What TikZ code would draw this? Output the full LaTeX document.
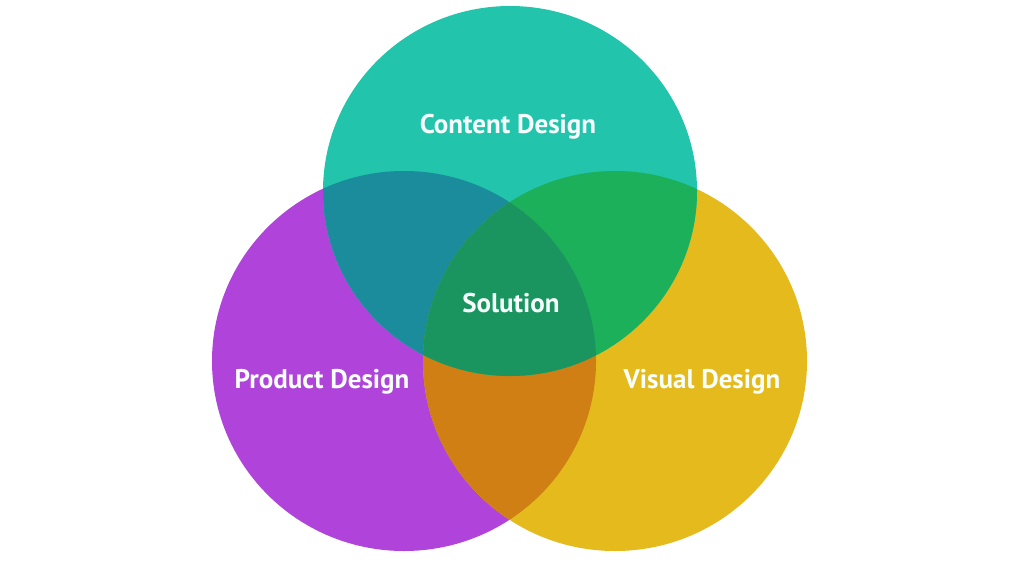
\documentclass[tikz,border=0pt]{standalone}
\usepackage{fontspec}
\setmainfont{PT Sans}
\definecolor{cteal}{HTML}{22C4AB}
\definecolor{cpurple}{HTML}{B044DA}
\definecolor{cyellow}{HTML}{E4BA1D}
\definecolor{ctp}{HTML}{1A8C9C}
\definecolor{cty}{HTML}{1DB05A}
\definecolor{cpy}{HTML}{D07F14}
\definecolor{cmid}{HTML}{1A9560}
\definecolor{ctext}{HTML}{F6FFFB}
\tikzset{
  lbl/.style={text=ctext, font=\bfseries\fontsize{27}{31}\selectfont, inner sep=0pt, anchor=center}
}
\begin{document}
\begin{tikzpicture}[x=1pt,y=-1pt]
\useasboundingbox (0,0) rectangle (1024,576);
\fill[white] (0,0) rectangle (1024,576);
\def\TopC{(510,191) circle[x radius=187, y radius=185]}
\def\LeftC{(404,361) circle[x radius=192, y radius=190]}
\def\RightC{(615,361) circle[x radius=192, y radius=190]}
\fill[cpurple] \LeftC;
\fill[cyellow] \RightC;
\fill[cteal] \TopC;
\begin{scope}
  \clip \LeftC;
  \fill[ctp] \TopC;
  \fill[cpy] \RightC;
\end{scope}
\begin{scope}
  \clip \RightC;
  \fill[cty] \TopC;
\end{scope}
\begin{scope}
  \clip \LeftC;
  \clip \RightC;
  \fill[cmid] \TopC;
\end{scope}
\node[lbl] (content) at (508,127) {Content Design};
\node[lbl] (solution) at (511,303) {Solution};
\node[lbl] (product) at (322,382) {Product Design};
\node[lbl] (visual) at (702,382) {Visual Design};
\end{tikzpicture}
\end{document}
